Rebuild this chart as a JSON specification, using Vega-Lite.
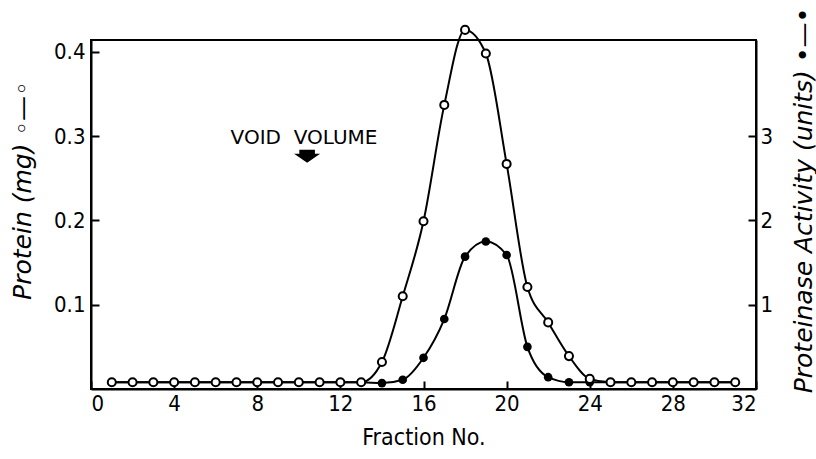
{
  "$schema": "https://vega.github.io/schema/vega-lite/v6.json",
  "width": 665,
  "height": 349,
  "autosize": "none",
  "padding": {"left": 91, "top": 40, "right": 60, "bottom": 70},
  "background": "white",
  "config": {
    "view": {"stroke": "black", "strokeWidth": 2},
    "axis": {
      "grid": false,
      "domainColor": "black",
      "domainWidth": 2,
      "tickColor": "black",
      "tickWidth": 2,
      "tickSize": -8,
      "labelFont": "DejaVu Sans Condensed, DejaVu Sans",
      "labelFontSize": 22,
      "labelColor": "black",
      "titleFont": "DejaVu Sans",
      "titleFontWeight": "normal",
      "titleColor": "black"
    }
  },
  "data": {
    "values": [
      {"fraction": 1, "protein": 0.008, "activity": 0.08},
      {"fraction": 2, "protein": 0.008, "activity": 0.08},
      {"fraction": 3, "protein": 0.008, "activity": 0.08},
      {"fraction": 4, "protein": 0.008, "activity": 0.08},
      {"fraction": 5, "protein": 0.008, "activity": 0.08},
      {"fraction": 6, "protein": 0.008, "activity": 0.08},
      {"fraction": 7, "protein": 0.008, "activity": 0.08},
      {"fraction": 8, "protein": 0.008, "activity": 0.08},
      {"fraction": 9, "protein": 0.008, "activity": 0.08},
      {"fraction": 10, "protein": 0.008, "activity": 0.08},
      {"fraction": 11, "protein": 0.008, "activity": 0.08},
      {"fraction": 12, "protein": 0.008, "activity": 0.08},
      {"fraction": 13, "protein": 0.008, "activity": 0.08},
      {"fraction": 14, "protein": 0.032, "activity": 0.07},
      {"fraction": 15, "protein": 0.11, "activity": 0.11},
      {"fraction": 16, "protein": 0.199, "activity": 0.37},
      {"fraction": 17, "protein": 0.337, "activity": 0.83},
      {"fraction": 18, "protein": 0.426, "activity": 1.57},
      {"fraction": 19, "protein": 0.398, "activity": 1.75},
      {"fraction": 20, "protein": 0.267, "activity": 1.59},
      {"fraction": 21, "protein": 0.121, "activity": 0.5},
      {"fraction": 22, "protein": 0.079, "activity": 0.14},
      {"fraction": 23, "protein": 0.039, "activity": 0.08},
      {"fraction": 24, "protein": 0.012, "activity": 0.08},
      {"fraction": 25, "protein": 0.008, "activity": 0.08},
      {"fraction": 26, "protein": 0.008, "activity": 0.08},
      {"fraction": 27, "protein": 0.008, "activity": 0.08},
      {"fraction": 28, "protein": 0.008, "activity": 0.08},
      {"fraction": 29, "protein": 0.008, "activity": 0.08},
      {"fraction": 30, "protein": 0.008, "activity": 0.08},
      {"fraction": 31, "protein": 0.008, "activity": 0.08}
    ]
  },
  "encoding": {
    "x": {
      "field": "fraction",
      "type": "quantitative",
      "scale": {"domain": [0, 32], "nice": false, "zero": false},
      "axis": {
        "values": [0, 4, 8, 12, 16, 20, 24, 28, 32],
        "title": "Fraction No.",
        "titleFont": "DejaVu Sans Condensed, DejaVu Sans",
        "titleFontSize": 23,
        "titlePadding": 12,
        "labelPadding": 12
      }
    }
  },
  "layer": [
    {
      "encoding": {
        "y": {
          "field": "activity",
          "type": "quantitative",
          "scale": {"domain": [0, 4.14], "nice": false},
          "axis": {
            "orient": "right",
            "values": [1, 2, 3],
            "labelPadding": 12,
            "title": "Proteinase Activity (units) •—•",
            "titleFontStyle": "italic",
            "titleFontSize": 25,
            "titleAngle": -90,
            "titleX": 47,
            "titleY": 160,
            "titleAlign": "center",
            "titleBaseline": "middle"
          }
        }
      },
      "layer": [
        {"mark": {"type": "line", "interpolate": "monotone", "color": "black", "strokeWidth": 2, "clip": false}},
        {"mark": {"type": "point", "filled": true, "color": "black", "size": 75, "opacity": 1, "clip": false}}
      ]
    },
    {
      "encoding": {
        "y": {
          "field": "protein",
          "type": "quantitative",
          "scale": {"domain": [0, 0.414], "nice": false},
          "axis": {
            "orient": "left",
            "values": [0.1, 0.2, 0.3, 0.4],
            "format": ".1f",
            "labelPadding": 14,
            "title": "Protein (mg) ◦—◦",
            "titleFontStyle": "italic",
            "titleFontSize": 25,
            "titleAngle": -90,
            "titleX": -69,
            "titleY": 150,
            "titleAlign": "center",
            "titleBaseline": "middle"
          }
        }
      },
      "layer": [
        {"mark": {"type": "line", "interpolate": "monotone", "color": "black", "strokeWidth": 2, "clip": false}},
        {"mark": {"type": "point", "filled": true, "fill": "white", "stroke": "black", "strokeWidth": 2, "size": 65, "opacity": 1, "clip": false}},
        {
          "transform": [{"filter": "datum.fraction == 1"}],
          "mark": {"type": "text", "text": "VOID \u00a0VOLUME", "font": "DejaVu Sans", "fontSize": 20, "color": "black", "align": "center", "baseline": "middle"},
          "encoding": {
            "x": {"datum": 10.25, "type": "quantitative"},
            "y": {"datum": 0.298, "type": "quantitative"}
          }
        },
        {
          "transform": [{"filter": "datum.fraction == 1"}],
          "mark": {"type": "point", "shape": "M-0.6,-0.5L0.6,-0.5L0.6,-0.2L1,-0.2L0,0.5L-1,-0.2L-0.6,-0.2Z", "size": 676, "filled": true, "color": "black", "opacity": 1, "strokeWidth": 0},
          "encoding": {
            "x": {"datum": 10.4, "type": "quantitative"},
            "y": {"datum": 0.276, "type": "quantitative"}
          }
        }
      ]
    }
  ],
  "resolve": {"scale": {"y": "independent"}}
}
